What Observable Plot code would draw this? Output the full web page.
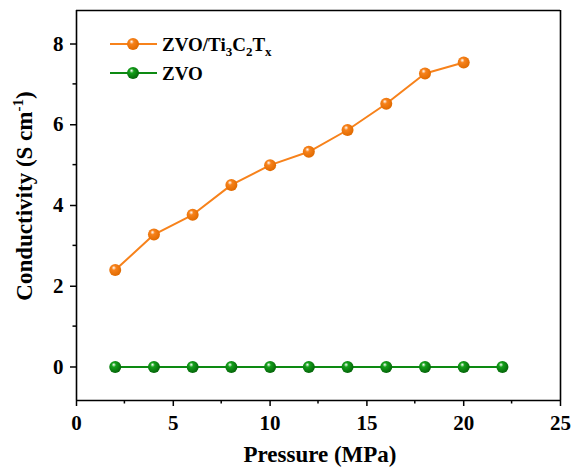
<!DOCTYPE html>
<html>
<head>
<meta charset="utf-8">
<script src="https://cdn.jsdelivr.net/npm/d3@7"></script>
<script src="https://cdn.jsdelivr.net/npm/@observablehq/plot@0.6"></script>
<style>
  html, body { margin: 0; padding: 0; background: #fff; }
  #chart svg { display: block; }
</style>
</head>
<body>
<div id="chart"></div>
<script>
// Pressure (MPa) and electrical conductivity (S cm^-1)
const pressureComposite = [2, 4, 6, 8, 10, 12, 14, 16, 18, 20];
const conductivityComposite = [2.40, 3.28, 3.77, 4.51, 5.00, 5.33, 5.87, 6.52, 7.27, 7.54];
const pressureZVO = [2, 4, 6, 8, 10, 12, 14, 16, 18, 20, 22];
const conductivityZVO = [0, 0, 0, 0, 0, 0, 0, 0, 0, 0, 0];

const xDomain = [0, 25];
const yDomain = [-0.83, 8.83];
const xTicks = [0, 5, 10, 15, 20, 25];
const xMinorTicks = [2.5, 7.5, 12.5, 17.5, 22.5];
const yTicks = [0, 2, 4, 6, 8];
const yMinorTicks = [1, 3, 5, 7];

const orange = "#f7821b";
const green = "#0d8a12";
const font = "'Liberation Serif', 'Times New Roman', serif";

const composite = pressureComposite.map((p, i) => ({p, c: conductivityComposite[i]}));
const zvo = pressureZVO.map((p, i) => ({p, c: conductivityZVO[i]}));

const plot = Plot.plot({
  width: 572,
  height: 468,
  marginLeft: 76,
  marginRight: 12,
  marginTop: 10,
  marginBottom: 68,
  style: {fontFamily: font, fontWeight: "bold", fontSize: "21px", color: "#000", background: "#fff"},
  x: {domain: xDomain},
  y: {domain: yDomain},
  marks: [
    Plot.axisX(xTicks, {tickSize: 6, tickPadding: 9, strokeWidth: 1.5, fontSize: 21, label: null}),
    Plot.axisY(yTicks, {tickSize: 6, tickPadding: 7, strokeWidth: 1.5, fontSize: 21, label: null}),
    // box around the plotting area
    Plot.ruleX(xDomain, {stroke: "#000", strokeWidth: 1.6}),
    Plot.ruleY(yDomain, {stroke: "#000", strokeWidth: 1.6}),
    Plot.line(zvo, {x: "p", y: "c", stroke: green, strokeWidth: 2}),
    Plot.line(composite, {x: "p", y: "c", stroke: orange, strokeWidth: 2}),
    Plot.dot(zvo, {x: "p", y: "c", r: 6, fill: "url(#ballGreen)", stroke: "none"}),
    Plot.dot(composite, {x: "p", y: "c", r: 6, fill: "url(#ballOrange)", stroke: "none"})
  ]
});

const svg = d3.select(plot);
const xs = plot.scale("x"), ys = plot.scale("y");
const sx = d3.scaleLinear().domain(xs.domain).range(xs.range);
const sy = d3.scaleLinear().domain(ys.domain).range(ys.range);
const [xl, xr] = xs.range, [yb, yt] = ys.range;

// shaded spheres for the markers
const defs = svg.append("defs");
function ball(id, base, dark) {
  const g = defs.append("radialGradient").attr("id", id)
    .attr("cx", "40%").attr("cy", "38%").attr("r", "62%").attr("fx", "38%").attr("fy", "30%");
  g.append("stop").attr("offset", "0%").attr("stop-color", "#ffffff");
  g.append("stop").attr("offset", "30%").attr("stop-color", base);
  g.append("stop").attr("offset", "100%").attr("stop-color", dark);
}
ball("ballOrange", orange, "#e06a00");
ball("ballGreen", "#14a01a", "#05660a");

// minor ticks (outward, shorter)
const minor = svg.append("g").attr("stroke", "#000").attr("stroke-width", 1.5);
xMinorTicks.forEach(t => minor.append("line")
  .attr("x1", sx(t)).attr("x2", sx(t)).attr("y1", yb).attr("y2", yb + 3.5));
yMinorTicks.forEach(t => minor.append("line")
  .attr("y1", sy(t)).attr("y2", sy(t)).attr("x1", xl).attr("x2", xl - 3.5));

// axis titles
svg.append("text")
  .attr("x", (xl + xr) / 2 + 2).attr("y", 462)
  .attr("text-anchor", "middle")
  .style("font", `bold 23px ${font}`)
  .text("Pressure (MPa)");

const ytitle = svg.append("text")
  .attr("transform", `translate(32, 196) rotate(-90)`)
  .attr("text-anchor", "middle")
  .style("font", `bold 23px ${font}`);
ytitle.append("tspan").text("Conductivity (S cm");
ytitle.append("tspan").attr("dy", -9).style("font-size", "15px").text("-1");
ytitle.append("tspan").attr("dy", 9).text(")");

// legend
const legend = svg.append("g").attr("text-anchor", "start").style("font", `bold 19px ${font}`);
[
  {name: [["ZVO/Ti", 0], ["3", 1], ["C", 0], ["2", 1], ["T", 0], ["x", 1]], color: orange, grad: "ballOrange"},
  {name: [["ZVO", 0]], color: green, grad: "ballGreen"}
].forEach((d, i) => {
  const cy = 44 + i * 29;
  legend.append("line").attr("x1", 110).attr("x2", 157).attr("y1", cy).attr("y2", cy)
    .attr("stroke", d.color).attr("stroke-width", 2);
  legend.append("circle").attr("cx", 133).attr("cy", cy).attr("r", 6).attr("fill", `url(#${d.grad})`);
  const t = legend.append("text").attr("x", 162).attr("y", cy + 7);
  let sub = false;
  d.name.forEach(([s, isSub]) => {
    const ts = t.append("tspan").text(s);
    if (isSub) ts.style("font-size", "13px");
    if (isSub && !sub) { ts.attr("dy", 5); sub = true; }
    else if (!isSub && sub) { ts.attr("dy", -5); sub = false; }
  });
});

document.getElementById("chart").appendChild(plot);
</script>
</body>
</html>
